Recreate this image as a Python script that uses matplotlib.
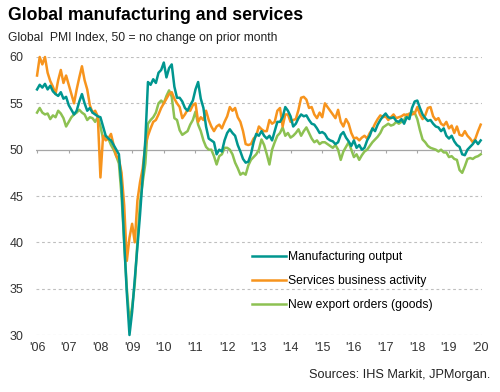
# GLOBAL MANUFACTURING AND SERVICES PMI CHART

import numpy as np
import matplotlib
matplotlib.use("Agg")
import matplotlib.pyplot as plt

plt.rcParams["font.family"] = ["Liberation Sans", "DejaVu Sans"]

# DATA (monthly, Jan 2006 - Jan 2020)

manufacturing_output = [
    56.5, 57.0, 56.7, 57.1, 56.5, 56.9, 56.3, 56.0, 55.8, 56.2, 55.5, 55.7,  # 2006
    54.8, 54.3, 53.8, 54.2, 55.2, 56.0, 55.0, 54.2, 54.5, 54.0, 53.8, 53.6,  # 2007
    53.5, 52.5, 51.5, 51.2, 51.0, 50.5, 50.0, 49.5, 46.0, 40.0, 34.5, 30.0,  # 2008
    32.5, 36.0, 39.5, 43.0, 47.0, 51.0, 57.3, 57.0, 57.6, 57.2, 58.3, 58.6,  # 2009
    59.4, 57.8, 58.8, 59.2, 56.8, 55.6, 55.6, 55.2, 54.5, 54.2, 54.8, 55.3,  # 2010
    56.5, 57.3, 55.5, 54.5, 52.5, 51.2, 51.0, 50.8, 49.5, 50.0, 49.8, 51.0,  # 2011
    51.8, 52.2, 51.8, 51.5, 50.5, 49.8, 49.0, 48.6, 48.7, 49.5, 50.8, 51.7,  # 2012
    51.5, 52.0, 51.5, 51.2, 51.5, 51.0, 52.0, 53.0, 53.0, 53.5, 54.6, 54.2,  # 2013
    53.6, 52.5, 52.8, 53.4, 53.8, 53.6, 53.7, 53.2, 52.8, 52.7, 52.3, 51.8,  # 2014
    51.9, 51.7, 51.2, 51.0, 50.9, 50.6, 50.8, 51.6, 51.9, 51.3, 50.9, 50.4,  # 2015
    51.0, 50.2, 50.5, 50.0, 50.2, 51.0, 51.5, 52.3, 52.0, 52.7, 53.2, 53.6,  # 2016
    53.9, 53.5, 53.4, 53.5, 53.1, 53.0, 53.3, 52.8, 53.5, 53.3, 54.5, 55.2,  # 2017
    55.3, 54.5, 53.8, 53.4, 53.1, 53.2, 52.8, 52.5, 52.4, 52.0, 52.3, 51.5,  # 2018
    51.2, 51.5, 50.9, 50.5, 50.3, 49.5, 49.4, 50.0, 50.3, 50.6, 51.0, 50.6,  # 2019
    51.0,                                                                    # 2020
]

services_activity = [
    58.0, 60.0, 59.2, 60.0, 58.3, 57.4, 56.8, 56.0, 57.5, 58.6, 57.2, 58.0,  # 2006
    57.0, 56.0, 55.0, 56.5, 57.8, 59.0, 57.5, 56.5, 54.8, 54.0, 54.2, 53.6,  # 2007
    47.0, 51.5, 51.0, 51.2, 51.7, 50.5, 49.3, 49.0, 47.5, 44.0, 38.0, 40.5,  # 2008
    42.0, 40.0, 44.5, 46.5, 48.0, 50.5, 51.5, 52.3, 53.0, 53.2, 53.8, 54.5,  # 2009
    55.0, 55.5, 56.0, 56.2, 55.5, 55.0, 54.6, 53.4, 53.8, 54.3, 54.2, 54.8,  # 2010
    55.0, 53.0, 53.5, 53.2, 54.2, 53.2, 52.5, 52.0, 52.5, 52.7, 52.3, 53.0,  # 2011
    53.6, 54.6, 54.2, 54.5, 53.5, 53.0, 52.0, 50.6, 50.5, 50.6, 51.2, 51.5,  # 2012
    52.5, 52.2, 52.0, 52.0, 53.2, 52.8, 53.0, 54.2, 54.5, 52.5, 53.8, 53.8,  # 2013
    53.0, 53.2, 53.3, 54.3, 55.6, 55.7, 55.4, 54.5, 54.6, 53.8, 53.4, 54.0,  # 2014
    53.5, 55.0, 54.6, 54.2, 53.8, 53.4, 54.3, 53.0, 52.5, 53.3, 52.8, 51.8,  # 2015
    51.2, 51.3, 51.0, 51.3, 51.5, 51.2, 51.8, 52.2, 52.8, 53.3, 53.7, 53.5,  # 2016
    53.6, 53.2, 53.5, 53.8, 53.4, 53.5, 53.6, 53.8, 53.7, 53.9, 53.8, 53.9,  # 2017
    54.6, 53.8, 53.3, 53.7, 54.5, 54.6, 53.6, 53.2, 53.4, 52.8, 52.6, 53.0,  # 2018
    52.3, 52.6, 51.8, 52.5, 51.6, 51.5, 52.0, 51.5, 51.2, 50.8, 51.2, 52.0,  # 2019
    52.7,                                                                    # 2020
]

export_orders = [
    54.0, 54.5, 54.0, 53.8, 53.9, 53.3, 53.7, 53.5, 54.2, 53.9, 53.4, 52.5,  # 2006
    53.0, 53.5, 53.8, 54.0, 54.3, 54.0, 53.8, 53.2, 53.5, 53.4, 53.0, 53.5,  # 2007
    52.5, 51.2, 51.5, 51.2, 50.5, 50.0, 49.3, 48.5, 45.0, 40.0, 35.0, 31.5,  # 2008
    33.0, 35.5, 40.0, 44.3, 46.5, 48.5, 52.8, 53.2, 53.5, 54.0, 55.0, 55.3,  # 2009
    55.0, 55.8, 56.4, 55.7, 53.4, 53.2, 52.1, 51.6, 51.8, 52.0, 52.7, 53.2,  # 2010
    54.1, 52.7, 52.0, 51.0, 50.3, 50.0, 50.0, 49.3, 48.4, 49.3, 49.5, 50.2,  # 2011
    50.2, 50.0, 49.5, 48.6, 48.0, 47.3, 47.5, 47.3, 48.3, 48.9, 49.2, 49.5,  # 2012
    50.0, 51.1, 50.5, 49.5, 48.4, 50.0, 50.8, 51.5, 51.8, 52.4, 51.5, 51.8,  # 2013
    51.3, 51.5, 51.8, 52.2, 51.5, 52.0, 52.4, 51.8, 51.2, 50.8, 51.0, 50.6,  # 2014
    50.8, 50.8, 50.6, 50.4, 50.2, 50.5, 50.0, 48.9, 49.8, 50.3, 50.8, 50.0,  # 2015
    49.2, 49.5, 48.9, 49.4, 49.8, 50.0, 50.4, 50.8, 51.1, 51.4, 51.8, 52.4,  # 2016
    52.6, 52.8, 52.6, 52.7, 53.0, 52.8, 53.0, 53.2, 53.8, 53.6, 54.1, 54.0,  # 2017
    53.3, 52.1, 51.1, 50.8, 50.4, 50.2, 50.1, 50.0, 49.8, 50.0, 49.7, 49.7,  # 2018
    49.2, 49.3, 49.0, 48.9, 47.8, 47.5, 48.2, 49.0, 49.1, 49.0, 49.2, 49.3,  # 2019
    49.5,                                                                    # 2020
]

year_labels = ["'06", "'07", "'08", "'09", "'10", "'11", "'12", "'13",
               "'14", "'15", "'16", "'17", "'18", "'19", "'20"]
y_ticks = [30, 35, 40, 45, 50, 55, 60]

series_names = [
    "Manufacturing output",
    "Services business activity",
    "New export orders (goods)",
]
series_colors = ["#00968f", "#f7941d", "#8dc152"]

# FIGURE

fig = plt.figure(figsize=(5, 3.92), dpi=100)
ax = fig.add_axes([0.072, 0.1454, 0.892, 0.7092])

months = np.arange(len(manufacturing_output))
year_pos = np.arange(len(year_labels)) * 12

# GRIDLINES

for v in y_ticks:
    if v == 50:
        ax.axhline(v, color="#a6a6a6", lw=0.9, zorder=1)
    else:
        ax.axhline(v, color="#bfbfbf", lw=0.8, ls=(0, (2.5, 2.5)), zorder=1)

ax.vlines(year_pos, 49.65, 50, color="#a6a6a6", lw=0.8, zorder=1)

# LINES (drawn so manufacturing sits on top)

all_series = [manufacturing_output, services_activity, export_orders]
handles = []
for data, name, col, z in zip(all_series, series_names, series_colors, [5, 4, 3]):
    h, = ax.plot(months, data, color=col, lw=1.8, label=name,
                 zorder=z, clip_on=False, solid_joinstyle="round")
    handles.append(h)

# AXES STYLE

ax.set_xlim(-0.4, 168.5)
ax.set_ylim(30, 60)
for s in ax.spines.values():
    s.set_visible(False)

ax.set_yticks(y_ticks)
ax.set_yticklabels([str(v) for v in y_ticks], fontsize=9, color="#333333")
ax.set_xticks(year_pos)
ax.set_xticklabels(year_labels, fontsize=9, color="#333333")
ax.tick_params(axis="both", length=0)
ax.tick_params(axis="y", pad=9)
ax.tick_params(axis="x", pad=5)

# LEGEND

ax.legend(
    handles=handles,
    loc="upper left",
    bbox_to_anchor=(252 / 500, 1 - 251 / 392),
    bbox_transform=fig.transFigure,
    frameon=False,
    fontsize=8.7,
    handlelength=2.8,
    handletextpad=0.2,
    labelspacing=1.0,
    borderpad=0,
    borderaxespad=0,
)

# TEXT

fig.text(8 / 500, 1 - 15 / 392, "Global manufacturing and services",
         fontsize=12.7, fontweight="bold", va="center", ha="left")
fig.text(8 / 500, 1 - 38 / 392, "Global  PMI Index, 50 = no change on prior month",
         fontsize=8.7, va="center", ha="left", color="#222222")
fig.text(490 / 500, 1 - 375 / 392, "Sources: IHS Markit, JPMorgan.",
         fontsize=9.2, va="center", ha="right", color="#222222")

fig.savefig("out.png", dpi=100)
